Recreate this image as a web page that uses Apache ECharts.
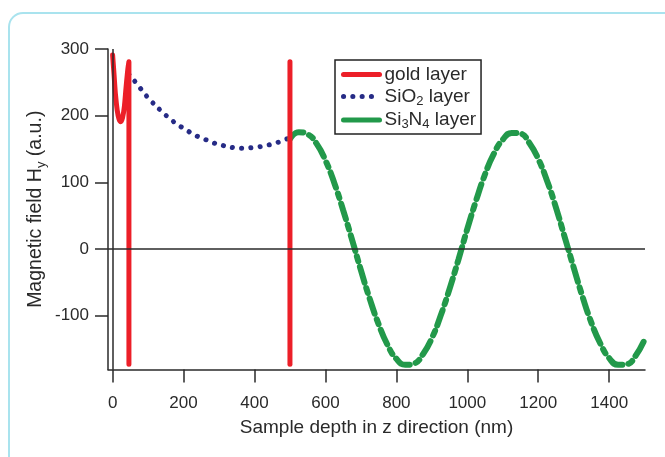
<!DOCTYPE html>
<html>
<head>
<meta charset="utf-8">
<script src="https://cdn.jsdelivr.net/npm/echarts@6/dist/echarts.min.js"></script>
<style>
  html, body { margin: 0; padding: 0; background: #fff; }
  #graph { width: 665px; height: 457px; }
</style>
</head>
<body>
<div id="graph"></div>
<script>
// values (depth in nm, field in a.u.)
const goldA = [[0, 291], [4, 262], [8, 232], [13, 208], [18, 195], [23, 191], [28, 197], [33, 213], [38, 243], [43, 270], [46, 281], [46, -173]];
const goldB = [[500, 281], [500, -173]];
const sio2 = [[46, 262], [68, 248], [90, 233], [110, 221], [135, 208], [160, 196], [185, 186], [209, 178], [235, 170], [258, 165], [285, 159], [312, 155], [340, 152], [366, 151], [395, 152], [422, 154], [447, 157], [472, 161], [500, 167]];
const si3n4Depth = [500, 525, 550, 575, 600, 625, 650, 675, 700, 725, 750, 775, 800, 825, 850, 875, 900, 925, 950, 975, 1000, 1025, 1050, 1075, 1100, 1125, 1150, 1175, 1200, 1225, 1250, 1275, 1300, 1325, 1350, 1375, 1400, 1425, 1450, 1475, 1500];
const si3n4Field = [165, 175, 172, 158, 133, 99, 58, 14, -32, -75, -113, -144, -165, -174, -172, -158, -134, -100, -60, -16, 30, 73, 112, 143, 164, 174, 173, 159, 135, 102, 62, 17, -28, -72, -111, -142, -164, -174, -173, -160, -136];
const xTicks = [0, 200, 400, 600, 800, 1000, 1200, 1400];
const yTicks = [-100, 0, 100, 200, 300];

const font = "'Liberation Sans', Arial, sans-serif";
const ink = '#2a2a2a';
const red = '#ec1f28', navy = '#262b86', green = '#22994a';

var chart = echarts.init(document.getElementById('graph'));

function legendName(name) {
  if (name === 'SiO2 layer') return '{t|SiO}{s|2}{t| layer}';
  if (name === 'Si3N4 layer') return '{t|Si}{s|3}{t|N}{s|4}{t| layer}';
  return '{t|' + name + '}';
}

// hide the marker circle echarts puts in the middle of a line legend icon
const noMarker = {opacity: 0, borderWidth: 0};

chart.setOption({
  backgroundColor: '#fff',
  animation: false,
  graphic: [{
    type: 'rect',
    z: -10,
    shape: {x: 9, y: 13, width: 720, height: 520, r: 14},
    style: {fill: 'none', stroke: '#a9e3ee', lineWidth: 2}
  }],
  grid: {left: 108, right: 20, top: 49, bottom: 87.5},
  legend: {
    orient: 'vertical',
    left: 335,
    top: 60,
    padding: [5, 5, 3, 6],
    itemGap: 3,
    itemWidth: 36,
    itemHeight: 14,
    borderColor: '#222',
    borderWidth: 1.5,
    data: [
      {name: 'gold layer', itemStyle: noMarker, lineStyle: {width: 5, color: red, cap: 'round'}},
      {name: 'SiO2 layer', itemStyle: noMarker, lineStyle: {width: 5, color: navy, type: [0.1, 9.2], cap: 'round'}},
      {name: 'Si3N4 layer', itemStyle: noMarker, lineStyle: {width: 5, color: green, type: 'solid', cap: 'round'}}
    ],
    formatter: legendName,
    textStyle: {
      fontFamily: font, color: ink,
      rich: {
        t: {fontFamily: font, fontSize: 19, color: ink, lineHeight: 22},
        s: {fontFamily: font, fontSize: 13, color: ink, lineHeight: 10, verticalAlign: 'bottom'}
      }
    }
  },
  xAxis: {
    type: 'value',
    min: -13,
    max: 1501,
    name: 'Sample depth in z direction (nm)',
    nameLocation: 'middle',
    nameGap: 49,
    nameMoveOverlap: false,
    nameTextStyle: {fontFamily: font, fontSize: 19, color: ink},
    axisLine: {onZero: false, lineStyle: {color: ink, width: 1.5}},
    axisTick: {inside: false, length: 13, customValues: xTicks, lineStyle: {color: ink, width: 1.5}},
    axisLabel: {customValues: xTicks, margin: 25, fontFamily: font, fontSize: 17, color: ink, formatter: v => String(v)},
    splitLine: {show: false}
  },
  yAxis: {
    type: 'value',
    min: -181,
    max: 300,
    name: 'Magnetic field H{s|y} (a.u.)',
    nameLocation: 'middle',
    nameGap: 60,
    nameMoveOverlap: false,
    nameTextStyle: {
      fontFamily: font, fontSize: 19.5, color: ink,
      rich: {
        s: {fontFamily: font, fontSize: 13, color: ink, lineHeight: 10, verticalAlign: 'bottom'}
      },
      lineHeight: 24
    },
    axisLine: {show: true, onZero: false, lineStyle: {color: ink, width: 1.5}},
    axisTick: {show: true, length: 13, customValues: yTicks, lineStyle: {color: ink, width: 1.5}},
    axisLabel: {customValues: yTicks, margin: 19, fontFamily: font, fontSize: 17, color: ink, formatter: v => String(v)},
    splitLine: {show: false}
  },
  series: [
    {
      name: 'zero',
      type: 'line',
      data: [],
      silent: true,
      markLine: {
        silent: true,
        symbol: 'none',
        label: {show: false},
        lineStyle: {color: ink, width: 1.5, type: 'solid'},
        data: [{xAxis: 0}, {yAxis: 0}]
      }
    },
    {
      name: 'SiO2 layer',
      type: 'line',
      symbol: 'none',
      smooth: true,
      data: sio2,
      lineStyle: {color: navy, width: 5, type: [0.1, 9.2], cap: 'round'},
      itemStyle: {color: navy}
    },
    {
      name: 'Si3N4 layer',
      type: 'line',
      symbol: 'none',
      smooth: true,
      data: si3n4Depth.map((d, i) => [d, si3n4Field[i]]),
      lineStyle: {color: green, width: 6, type: [16, 6, 5, 6], cap: 'round'},
      itemStyle: {color: green}
    },
    {
      name: 'gold layer',
      type: 'line',
      symbol: 'none',
      smooth: 0.3,
      data: goldA,
      lineStyle: {color: red, width: 5, cap: 'round', join: 'round'},
      itemStyle: {color: red}
    },
    {
      name: 'gold layer',
      type: 'line',
      symbol: 'none',
      data: goldB,
      lineStyle: {color: red, width: 5, cap: 'round'},
      itemStyle: {color: red}
    }
  ]
});
</script>
</body>
</html>
